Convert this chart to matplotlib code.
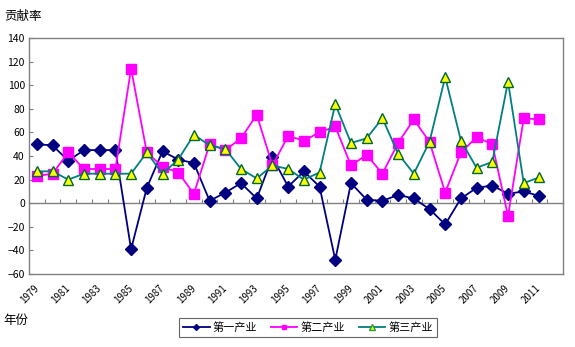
import matplotlib.pyplot as plt
from matplotlib.lines import Line2D
import numpy as np

# ---------- config ----------
plt.rcParams['font.family'] = ['Noto Sans CJK SC', 'DejaVu Sans']

navy = "#000080"
magenta = "#ff00ff"
teal = "#008080"
yellow = "#ffff00"
frame_gray = "#808080"
# ----------------------------

years = list(range(1979, 2012))
primary = [50, 49, 36, 45, 45, 45, -39, 13, 44, 37, 34, 2, 9, 17, 4, 39, 14,
           27, 14, -48, 17, 3, 2, 7, 4, -5, -18, 4, 13, 15, 8, 10, 6]
secondary = [23, 25, 43, 29, 29, 29, 114, 43, 31, 26, 8, 50, 45, 55, 75, 32, 57,
             53, 60, 65, 32, 41, 25, 51, 71, 52, 9, 43, 56, 50, -11, 72, 71]
tertiary = [27, 27, 20, 25, 25, 25, 25, 43, 25, 37, 58, 49, 46, 29, 21, 32, 29,
            20, 26, 84, 51, 55, 72, 42, 25, 52, 107, 53, 30, 35, 103, 17, 22]
series_names = ["第一产业", "第二产业", "第三产业"]

x = np.arange(len(years))

fig = plt.figure(figsize=(5.75, 3.47), dpi=100)
ax = fig.add_axes([29 / 575, 1 - 274 / 347, 534 / 575, 236 / 347])

ax.plot(x, primary, color=navy, lw=1.3, marker='D', ms=6.5,
        mfc=navy, mec=navy, zorder=3)
ax.plot(x, secondary, color=magenta, lw=1.3, marker='s', ms=7,
        mfc=magenta, mec=magenta, zorder=4)
ax.plot(x, tertiary, color=teal, lw=1.3, marker='^', ms=7,
        mfc=yellow, mec="#006633", mew=1.0, zorder=5)

ax.set_xlim(-0.5, len(years) + 0.5)
ax.set_ylim(-60, 140)
ax.set_yticks(np.arange(-60, 141, 20))
ax.tick_params(axis='y', direction='in', length=3, labelsize=7.5,
               color=frame_gray, pad=3)

# year labels below the plot area
ax.set_xticks(x[::2])
ax.set_xticklabels([str(y) for y in years[::2]], rotation=45, ha='right',
                   va='center', rotation_mode='anchor', fontsize=7)
ax.tick_params(axis='x', length=0, pad=9)

for s in ax.spines.values():
    s.set_color(frame_gray)
    s.set_linewidth(1.0)

# category axis at zero with tick marks between categories
zero_frac = (0 - (-60)) / 200
sec = ax.secondary_xaxis(zero_frac)
sec.set_xticks(np.arange(0.5, len(years) + 0.6, 1))
sec.tick_params(axis='x', direction='in', length=3, color=frame_gray,
                labelbottom=False, labeltop=False)
sec.spines['bottom'].set_color(frame_gray)
sec.spines['bottom'].set_linewidth(1.0)

fig.text(0.007, 1 - 16 / 347, "贡献率", fontsize=9, va='center', ha='left')
fig.text(0.005, 1 - 320 / 347, "年份", fontsize=9, va='center', ha='left')

handles = [
    Line2D([], [], color=navy, lw=1.3, marker='D', ms=3, mfc=navy, mec=navy),
    Line2D([], [], color=magenta, lw=1.3, marker='s', ms=3.5, mfc=magenta, mec=magenta),
    Line2D([], [], color=teal, lw=1.3, marker='^', ms=4, mfc="#ccff33", mec="#339933"),
]
leg = fig.legend(handles, series_names, ncol=3, fontsize=8,
                 loc='center', bbox_to_anchor=(308 / 575, 1 - 327.5 / 347),
                 frameon=True, fancybox=False, edgecolor="#404040",
                 handlelength=2.4, handletextpad=0.3, columnspacing=1.2,
                 borderpad=0.35)
leg.get_frame().set_linewidth(0.8)

fig.savefig("out.png", dpi=100)
